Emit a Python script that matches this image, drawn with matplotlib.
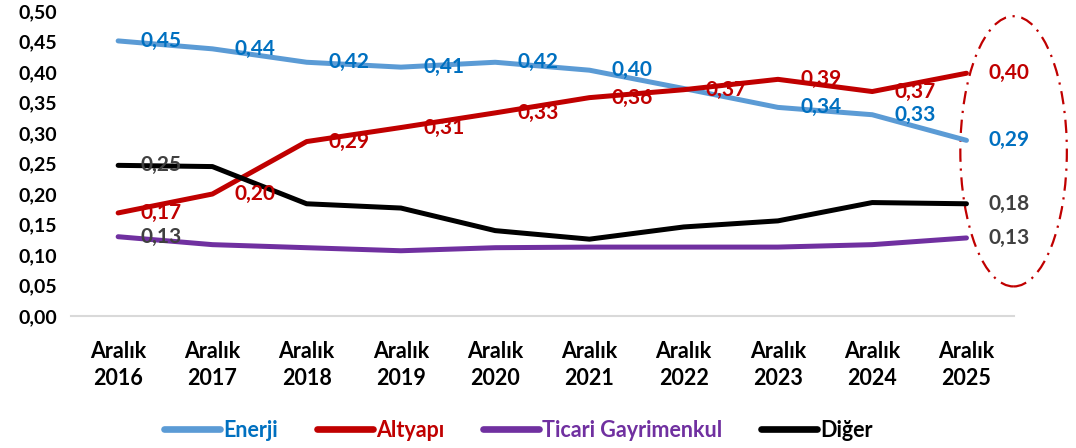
import matplotlib
matplotlib.use("Agg")
import matplotlib.pyplot as plt
from matplotlib.patches import Ellipse

plt.rcParams['font.family'] = ['Lato', 'DejaVu Sans']
plt.rcParams['font.weight'] = 'bold'

years = ["2016", "2017", "2018", "2019", "2020", "2021", "2022", "2023", "2024", "2025"]
xlabels = ["Aralık\n" + y for y in years]

enerji = [0.451, 0.438, 0.416, 0.408, 0.416, 0.403, 0.373, 0.342, 0.330, 0.288]
altyapi = [0.169, 0.200, 0.286, 0.309, 0.333, 0.358, 0.371, 0.388, 0.368, 0.398]
ticari = [0.130, 0.117, 0.112, 0.107, 0.112, 0.113, 0.113, 0.113, 0.117, 0.128]
diger = [0.247, 0.245, 0.184, 0.177, 0.140, 0.126, 0.146, 0.156, 0.186, 0.184]

# which points carry a value label
enerji_lab = [0, 1, 2, 3, 4, 5, 7, 8, 9]
altyapi_lab = list(range(10))
ticari_lab = [0, 9]
diger_lab = [0, 9]

series = [
    ("Enerji", enerji, "#5B9BD5", "#0070C0", enerji_lab),
    ("Altyapı", altyapi, "#C00000", "#C00000", altyapi_lab),
    ("Ticari Gayrimenkul", ticari, "#7030A0", "#404040", ticari_lab),
    ("Diğer", diger, "#000000", "#404040", diger_lab),
]
legend_colors = ["#0070C0", "#C00000", "#7030A0", "#000000"]

fig = plt.figure(figsize=(10.76, 4.48), dpi=100)
ax = fig.add_axes([0.066, 0.2946, 0.876, 0.6808])

x = list(range(len(years)))
for name, vals, col, lcol, labs in series:
    ax.plot(x, vals, color=col, lw=3.6, label=name, solid_capstyle='round',
            solid_joinstyle='round')

for name, vals, col, lcol, labs in series:
    for i in labs:
        ax.annotate("{:.2f}".format(vals[i]).replace(".", ","), (x[i], vals[i]),
                    xytext=(16, 0), textcoords="offset points", ha="left", va="center",
                    color=lcol, fontsize=15, fontweight="bold", zorder=5)

ax.set_xlim(-0.5, 9.5)
ax.set_ylim(0, 0.5)
ax.set_yticks([i * 0.05 for i in range(11)])
ax.set_yticklabels(["{:.2f}".format(i * 0.05).replace(".", ",") for i in range(11)])
ax.set_xticks(x)
ax.set_xticklabels(xlabels, linespacing=1.35)
ax.tick_params(axis="y", length=0, pad=10, labelsize=14)
ax.tick_params(axis="x", length=0, pad=18, labelsize=15.5)

for s in ["top", "right", "left"]:
    ax.spines[s].set_visible(False)
ax.spines["bottom"].set_color("#D9D9D9")
ax.spines["bottom"].set_linewidth(1.5)

ell = Ellipse((9.5, 0.27), 1.13, 0.443, fill=False, edgecolor="#C00000", lw=1.6,
              linestyle=(0, (6, 3, 1, 3)), clip_on=False)
ax.add_patch(ell)

leg = fig.legend(loc="center", bbox_to_anchor=(0.482, 0.04), ncol=4, frameon=False,
                 fontsize=15.5, handlelength=2.6, handletextpad=0.15, columnspacing=1.8)
for t, c in zip(leg.get_texts(), legend_colors):
    t.set_color(c)
    t.set_fontweight("bold")
for h in leg.get_lines():
    h.set_linewidth(4.8)
    h.set_solid_capstyle("round")

fig.savefig("out.png", dpi=100)
